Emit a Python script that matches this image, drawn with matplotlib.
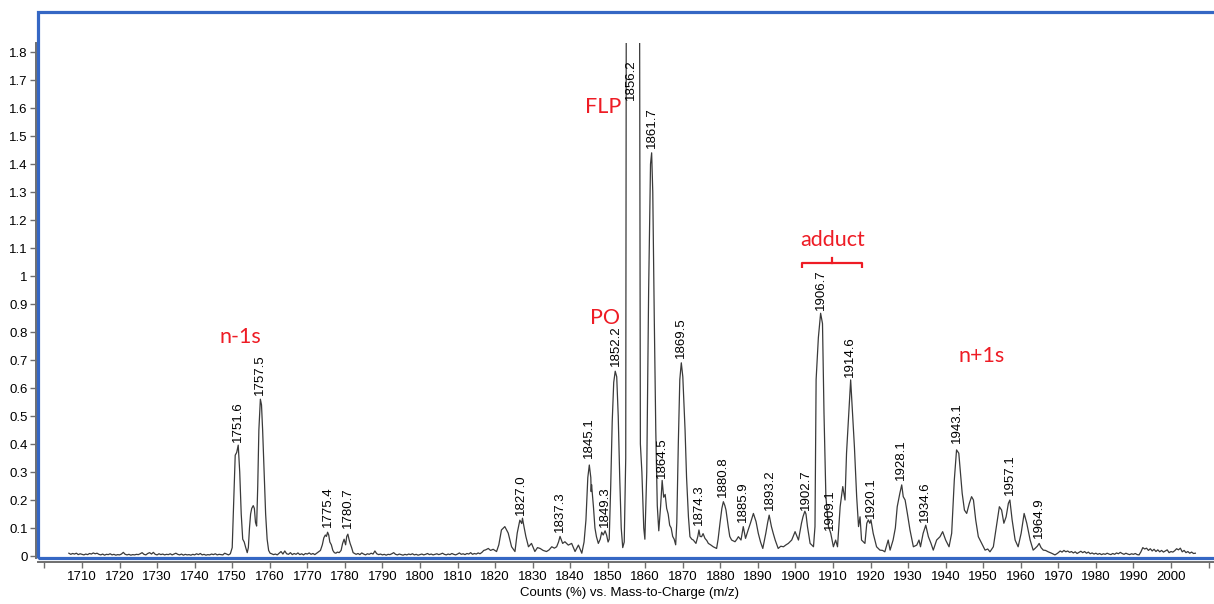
import matplotlib.pyplot as plt
from matplotlib.patches import Rectangle

# spectrum trace (m/z, counts %)
mz = [
    1706.5, 1707, 1707.5, 1708, 1708.5, 1709, 1709.5, 1710, 1710.5, 1711,
    1711.5, 1712, 1712.5, 1713, 1713.5, 1714, 1714.5, 1715, 1715.5, 1716,
    1716.5, 1717, 1717.5, 1718, 1718.5, 1719, 1719.5, 1720, 1720.5, 1721,
    1721.5, 1722, 1722.5, 1723, 1723.5, 1724, 1724.5, 1725, 1725.5, 1726,
    1726.5, 1727, 1727.5, 1728, 1728.5, 1729, 1729.5, 1730, 1730.5, 1731,
    1731.5, 1732, 1732.5, 1733, 1733.5, 1734, 1734.5, 1735, 1735.5, 1736,
    1736.5, 1737, 1737.5, 1738, 1738.5, 1739, 1739.5, 1740, 1740.5, 1741,
    1741.5, 1742, 1742.5, 1743, 1743.5, 1744, 1744.5, 1745, 1745.5, 1746,
    1746.5, 1747, 1747.5, 1748, 1748.5, 1749, 1749.5,
    1750.0, 1750.4, 1750.8, 1751.2, 1751.6, 1752.0, 1752.4, 1752.8, 1753.2, 1753.6,
    1754.0, 1754.3, 1754.6, 1754.9, 1755.2, 1755.6, 1755.9, 1756.2, 1756.5, 1756.8,
    1757.1, 1757.5, 1757.8, 1758.1, 1758.5, 1758.9, 1759.3, 1759.7, 1760.1,
    1760.5, 1761, 1761.5, 1762, 1762.5, 1763, 1763.5, 1764, 1764.5, 1765,
    1765.5, 1766, 1766.5, 1767, 1767.5, 1768, 1768.5, 1769, 1769.5, 1770,
    1770.5, 1771, 1771.5, 1772, 1772.5, 1773,
    1773.5, 1774, 1774.4, 1774.8, 1775.1, 1775.4, 1775.7, 1776, 1776.4, 1776.8,
    1777.2, 1777.6, 1778, 1778.5, 1779, 1779.4, 1779.8, 1780.2, 1780.5, 1780.8,
    1781.1, 1781.4, 1781.8, 1782.2, 1782.6,
    1783, 1783.5, 1784, 1784.5, 1785, 1785.5, 1786, 1786.5, 1787, 1787.5,
    1788, 1788.5, 1789, 1789.5, 1790, 1790.5, 1791, 1791.5, 1792, 1792.5,
    1793, 1793.5, 1794, 1794.5, 1795, 1795.5, 1796, 1796.5, 1797, 1797.5,
    1798, 1798.5, 1799, 1799.5, 1800, 1800.5, 1801, 1801.5, 1802, 1802.5,
    1803, 1803.5, 1804, 1804.5, 1805, 1805.5, 1806, 1806.5, 1807, 1807.5,
    1808, 1808.5, 1809, 1809.5, 1810, 1810.5, 1811, 1811.5, 1812, 1812.5,
    1813, 1813.5, 1814, 1814.5, 1815, 1815.5, 1816, 1816.5, 1817, 1817.5,
    1818.2, 1818.8, 1819.5, 1820.4, 1821.0, 1821.7, 1822.6, 1823.5, 1824.4, 1825.3,
    1825.9, 1826.6, 1827.1, 1827.3, 1827.7, 1828.2, 1828.9, 1829.7, 1830.6, 1831.3,
    1832.0, 1832.8, 1833.7, 1834.4, 1835.1, 1835.8, 1836.4, 1836.9, 1837.3, 1838.0,
    1838.6, 1839.5, 1840.4, 1841.3, 1842.2, 1843.1, 1843.7, 1844.2, 1844.7, 1845.1,
    1845.5, 1845.6, 1845.7, 1846.2, 1846.6, 1847.0, 1847.5, 1848.0, 1848.4, 1848.8,
    1849.3, 1849.7, 1850.1, 1850.4, 1850.8, 1851.2, 1851.6, 1852.0, 1852.4, 1852.8,
    1853.2, 1853.6, 1854.0, 1854.4, 1854.8, 1855.0, 1856.2, 1858.4, 1858.7, 1859.1,
    1859.6, 1859.9, 1860.4, 1860.9, 1861.4, 1861.7, 1862.0, 1862.4, 1862.8, 1863.2,
    1863.6, 1864.1, 1864.5, 1864.9, 1865.3, 1865.7, 1866.1, 1866.5, 1866.9, 1867.3,
    1867.7, 1868.1, 1868.4, 1868.8, 1869.2, 1869.6, 1870.0, 1870.6, 1871.0, 1871.5,
    1871.9, 1872.4, 1872.8, 1873.2, 1873.5, 1874.0, 1874.3, 1874.6, 1875.0, 1875.4,
    1875.9, 1876.4, 1876.8, 1877.4, 1878.1, 1879.0, 1879.4, 1879.9, 1880.4, 1880.8,
    1881.2, 1881.5, 1882.1, 1882.5, 1883.0, 1883.9, 1884.4, 1884.8, 1885.5, 1886.1,
    1886.7, 1887.4, 1888.0, 1888.8, 1889.5, 1890.1, 1890.7, 1891.3, 1892.1, 1892.6,
    1893.0, 1893.6, 1894.1, 1894.6, 1895.4, 1896.1, 1896.8, 1897.5, 1898.1, 1899.0,
    1899.9, 1900.4, 1900.8, 1901.6, 1902.0, 1902.5, 1902.8, 1903.2, 1903.9, 1904.3,
    1904.8, 1905.2, 1905.5, 1906.1, 1906.7, 1907.2, 1907.6, 1908.1, 1908.8, 1909.4,
    1910.1, 1910.7, 1911.2, 1911.9, 1912.6, 1913.2, 1913.6, 1914.3, 1914.7, 1915.1,
    1915.7, 1916.3, 1916.8, 1917.2, 1917.6, 1918.5, 1919.0, 1919.4, 1919.8, 1920.1,
    1920.7, 1921.6, 1922.5, 1923.2, 1923.8, 1924.7, 1925.2, 1926.0, 1926.6, 1927.1,
    1927.8, 1928.3, 1928.7, 1929.2, 1929.8, 1930.5, 1931.4, 1932.3, 1932.9, 1933.3,
    1934.0, 1934.7, 1935.4, 1936.1, 1936.7, 1937.6, 1938.5, 1939.2, 1940.0, 1940.9,
    1941.6, 1942.3, 1942.9, 1943.5, 1943.8, 1944.4, 1945.0, 1945.6, 1946.3, 1946.9,
    1947.4, 1948.0, 1948.7, 1949.6, 1950.5, 1951.2, 1951.8, 1952.7, 1953.5, 1954.3,
    1954.9, 1955.5, 1956.1, 1956.7, 1957.1, 1957.7, 1958.5, 1959.3, 1960.1, 1960.9,
    1961.6, 1962.5, 1963.3, 1963.8, 1964.4, 1964.9, 1965.4, 1966.0, 1966.6, 1967.3,
    1968.2, 1969.1,
    1969.6, 1970, 1970.5, 1971, 1971.5, 1972, 1972.5, 1973, 1973.5, 1974,
    1974.5, 1975, 1975.5, 1976, 1976.5, 1977, 1977.5, 1978, 1978.5, 1979,
    1979.5, 1980, 1980.5, 1981, 1981.5, 1982, 1982.5, 1983, 1983.5, 1984,
    1984.5, 1985, 1985.5, 1986, 1986.5, 1987, 1987.5, 1988, 1988.5, 1989,
    1989.5, 1990, 1990.5, 1991, 1991.5, 1992, 1992.5, 1993, 1993.5, 1994,
    1994.5, 1995, 1995.5, 1996, 1996.5, 1997, 1997.5, 1998, 1998.5, 1999,
    1999.5, 2000, 2000.5, 2001, 2001.5, 2002, 2002.5, 2003, 2003.5, 2004,
    2004.5, 2005, 2005.5, 2006, 2006.5,
]
counts = [
    0.010, 0.006, 0.009, 0.007, 0.010, 0.005, 0.008, 0.006, 0.004, 0.007,
    0.005, 0.009, 0.007, 0.011, 0.008, 0.010, 0.006, 0.004, 0.007, 0.003,
    0.006, 0.005, 0.008, 0.004, 0.006, 0.003, 0.005, 0.004, 0.007, 0.013,
    0.006, 0.004, 0.006, 0.003, 0.005, 0.004, 0.006, 0.005, 0.008, 0.012,
    0.006, 0.004, 0.009, 0.012, 0.007, 0.013, 0.006, 0.004, 0.008, 0.005,
    0.007, 0.004, 0.006, 0.005, 0.008, 0.004, 0.007, 0.010, 0.006, 0.004,
    0.007, 0.003, 0.006, 0.004, 0.005, 0.003, 0.006, 0.004, 0.008, 0.005,
    0.009, 0.004, 0.006, 0.003, 0.005, 0.004, 0.007, 0.005, 0.008, 0.004,
    0.006, 0.005, 0.004, 0.010, 0.007, 0.004, 0.008,
    0.030, 0.200, 0.360, 0.370, 0.396, 0.300, 0.150, 0.060, 0.050, 0.030,
    0.012, 0.030, 0.100, 0.150, 0.170, 0.180, 0.170, 0.120, 0.107, 0.250,
    0.450, 0.560, 0.540, 0.450, 0.300, 0.150, 0.060, 0.020, 0.010,
    0.008, 0.005, 0.007, 0.004, 0.010, 0.016, 0.007, 0.018, 0.008, 0.006,
    0.012, 0.005, 0.009, 0.006, 0.011, 0.005, 0.008, 0.004, 0.009, 0.007,
    0.011, 0.006, 0.009, 0.005, 0.010, 0.015,
    0.020, 0.040, 0.065, 0.075, 0.070, 0.085, 0.075, 0.050, 0.040, 0.020,
    0.012, 0.010, 0.014, 0.012, 0.020, 0.045, 0.060, 0.040, 0.070, 0.078,
    0.060, 0.045, 0.030, 0.012, 0.009,
    0.006, 0.009, 0.005, 0.011, 0.007, 0.004, 0.008, 0.006, 0.010, 0.007,
    0.018, 0.008, 0.005, 0.007, 0.004, 0.006, 0.003, 0.006, 0.005, 0.008,
    0.012, 0.006, 0.004, 0.007, 0.005, 0.003, 0.006, 0.004, 0.007, 0.005,
    0.008, 0.004, 0.006, 0.003, 0.005, 0.007, 0.004, 0.006, 0.009, 0.005,
    0.007, 0.004, 0.006, 0.008, 0.005, 0.007, 0.010, 0.006, 0.004, 0.007,
    0.005, 0.009, 0.006, 0.004, 0.007, 0.011, 0.006, 0.008, 0.005, 0.009,
    0.007, 0.012, 0.006, 0.009, 0.007, 0.011, 0.008, 0.013, 0.020, 0.022,
    0.027, 0.020, 0.024, 0.016, 0.040, 0.093, 0.105, 0.082, 0.033, 0.016,
    0.082, 0.128, 0.116, 0.135, 0.105, 0.070, 0.033, 0.045, 0.016, 0.030,
    0.027, 0.020, 0.016, 0.022, 0.033, 0.028, 0.033, 0.050, 0.070, 0.045,
    0.051, 0.039, 0.045, 0.016, 0.039, 0.010, 0.050, 0.128, 0.280, 0.325,
    0.280, 0.230, 0.255, 0.176, 0.100, 0.069, 0.045, 0.060, 0.085, 0.075,
    0.090, 0.075, 0.050, 0.060, 0.250, 0.480, 0.620, 0.660, 0.640, 0.500,
    0.280, 0.100, 0.030, 0.050, 0.350, 2.600, 3.200, 2.600, 0.400, 0.300,
    0.100, 0.060, 0.300, 0.950, 1.400, 1.440, 1.300, 0.850, 0.450, 0.180,
    0.090, 0.180, 0.270, 0.210, 0.220, 0.170, 0.150, 0.110, 0.100, 0.070,
    0.060, 0.040, 0.120, 0.400, 0.630, 0.690, 0.640, 0.450, 0.280, 0.140,
    0.069, 0.060, 0.057, 0.050, 0.045, 0.070, 0.093, 0.070, 0.069, 0.080,
    0.063, 0.055, 0.045, 0.040, 0.033, 0.027, 0.060, 0.117, 0.170, 0.194,
    0.180, 0.164, 0.105, 0.070, 0.057, 0.051, 0.060, 0.069, 0.057, 0.105,
    0.063, 0.093, 0.117, 0.152, 0.123, 0.081, 0.050, 0.027, 0.081, 0.120,
    0.146, 0.105, 0.080, 0.057, 0.027, 0.035, 0.033, 0.040, 0.045, 0.057,
    0.087, 0.070, 0.057, 0.117, 0.140, 0.160, 0.150, 0.105, 0.045, 0.040,
    0.033, 0.105, 0.630, 0.780, 0.867, 0.830, 0.510, 0.212, 0.105, 0.081,
    0.033, 0.057, 0.033, 0.176, 0.248, 0.200, 0.367, 0.533, 0.629, 0.533,
    0.390, 0.212, 0.105, 0.140, 0.057, 0.045, 0.117, 0.129, 0.117, 0.129,
    0.081, 0.033, 0.021, 0.020, 0.015, 0.057, 0.021, 0.057, 0.100, 0.176,
    0.224, 0.254, 0.212, 0.200, 0.152, 0.093, 0.033, 0.039, 0.057, 0.033,
    0.081, 0.110, 0.069, 0.045, 0.021, 0.057, 0.069, 0.087, 0.057, 0.033,
    0.081, 0.271, 0.379, 0.367, 0.319, 0.224, 0.164, 0.152, 0.188, 0.212,
    0.200, 0.129, 0.069, 0.045, 0.021, 0.025, 0.015, 0.033, 0.105, 0.176,
    0.164, 0.117, 0.140, 0.188, 0.200, 0.129, 0.057, 0.033, 0.081, 0.152,
    0.117, 0.057, 0.021, 0.027, 0.035, 0.045, 0.030, 0.021, 0.020, 0.015,
    0.010, 0.004,
    0.008, 0.012, 0.018, 0.014, 0.020, 0.015, 0.018, 0.013, 0.016, 0.011,
    0.015, 0.009, 0.013, 0.017, 0.012, 0.016, 0.010, 0.014, 0.008, 0.011,
    0.007, 0.010, 0.006, 0.009, 0.005, 0.008, 0.006, 0.010, 0.007, 0.005,
    0.009, 0.006, 0.011, 0.008, 0.013, 0.009, 0.006, 0.010, 0.007, 0.005,
    0.008, 0.006, 0.009, 0.005, 0.004, 0.015, 0.030, 0.025, 0.028, 0.020,
    0.026, 0.018, 0.024, 0.016, 0.022, 0.015, 0.020, 0.014, 0.018, 0.022,
    0.012, 0.016, 0.014, 0.019, 0.026, 0.022, 0.028, 0.015, 0.020, 0.012,
    0.016, 0.010, 0.014, 0.009, 0.010,
]
assert len(mz) == len(counts)

# peak annotations (label text and height of the label foot)
peak_labels = ["1751.6", "1757.5", "1775.4", "1780.7", "1827.0", "1837.3", "1845.1",
               "1849.3", "1852.2", "1856.2", "1861.7", "1864.5", "1869.5", "1874.3",
               "1880.8", "1885.9", "1893.2", "1902.7", "1906.7", "1909.1", "1914.6",
               "1920.1", "1928.1", "1934.6", "1943.1", "1957.1", "1964.9"]
label_y = [0.407, 0.575, 0.104, 0.100, 0.146, 0.086, 0.350,
           0.104, 0.680, 1.630, 1.457, 0.280, 0.707, 0.110,
           0.210, 0.120, 0.164, 0.164, 0.880, 0.093, 0.640,
           0.136, 0.271, 0.121, 0.404, 0.218, 0.064]

# red group names
group_names = ["n-1s", "FLP", "PO", "adduct", "n+1s"]
group_x = [1752.1, 1848.8, 1849.3, 1910.0, 1949.7]
group_y = [0.782, 1.604, 0.850, 1.129, 0.714]

red = "#ee1c25"
blue = "#3567c4"
grey = "#6e6e6e"

fig = plt.figure(figsize=(12.14, 6.04), dpi=100)
ax = fig.add_axes([38 / 1214, 1 - 558 / 604, (1220 - 38) / 1214, (558 - 12) / 604])
ax.set_xlim(1698.28, 2013.06)
ax.set_ylim(-0.0071, 1.9429)

line, = ax.plot(mz, counts, color="#3a3a3a", lw=0.9)
line.set_clip_path(Rectangle((1690, -0.05), 340, 1.882, transform=ax.transData))

for s, y in zip(peak_labels, label_y):
    ax.text(float(s), y, s, rotation=90, ha="center", va="bottom",
            fontsize=9.5, family="Liberation Sans", color="black")

for s, x, y in zip(group_names, group_x, group_y):
    ax.text(x, y, s, ha="center", va="center", fontsize=15.5,
            family="Lato", color=red)

# adduct bracket
ax.plot([1901.7, 1901.7, 1917.7, 1917.7], [1.029, 1.046, 1.046, 1.029],
        color=red, lw=1.6, solid_capstyle="butt")
ax.plot([1909.7, 1909.7], [1.046, 1.064], color=red, lw=1.6)

# axes styling
for side in ["top", "right"]:
    ax.spines[side].set_visible(False)
ax.spines["left"].set_position(("outward", 1.5))
ax.spines["left"].set_bounds(-0.0071, 1.832)
ax.spines["bottom"].set_position(("outward", 3))
for side in ["left", "bottom"]:
    ax.spines[side].set_color(grey)
    ax.spines[side].set_linewidth(1.4)

ax.add_patch(Rectangle((0, 0), 1, 1, transform=ax.transAxes, fill=False,
                       edgecolor=blue, lw=2.3, clip_on=False, zorder=5))

ax.set_yticks([i / 10 for i in range(19)])
ax.set_yticklabels(["%g" % (i / 10) for i in range(19)])
xt = list(range(1700, 2011, 10))
ax.set_xticks(xt)
ax.set_xticklabels(["" if t in (1700, 2010) else str(t) for t in xt])
ax.tick_params(axis="both", color=grey, width=1, labelsize=9.5, labelcolor="black")
ax.tick_params(axis="y", length=4, pad=2)
ax.tick_params(axis="x", length=4.5, pad=1.5)
for lab in ax.get_xticklabels() + ax.get_yticklabels():
    lab.set_family("Liberation Sans")

ax.set_xlabel("Counts (%) vs. Mass-to-Charge (m/z)", fontsize=9.5,
              family="Liberation Sans", labelpad=3)

fig.savefig("out.png", dpi=100)
